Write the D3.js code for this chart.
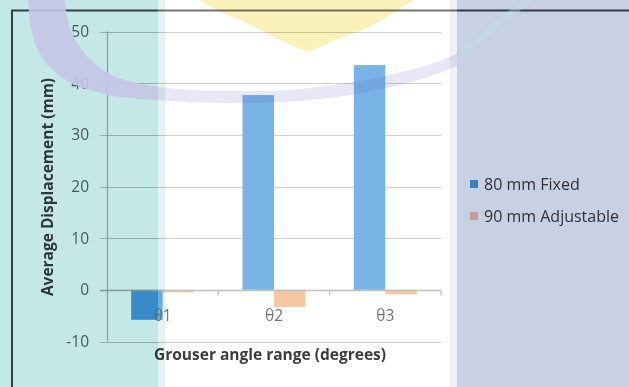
<!DOCTYPE html>
<html><head><meta charset="utf-8">
<script src="https://cdn.jsdelivr.net/npm/d3@7"></script>
<style>html,body{margin:0;padding:0;background:#fff;} svg{display:block;}</style>
</head><body>
<svg id="chart" width="629" height="387"></svg>
<script>
// Average displacement per grouser angle range
const categories = ["θ1", "θ2", "θ3"];
const seriesNames = ["80 mm Fixed", "90 mm Adjustable"];
const fixed80 = [-5.8, 37.7, 43.5];
const adjustable90 = [-0.5, -3.3, -0.9];
const yTicks = [-10, 0, 10, 20, 30, 40, 50];

const seriesValues = [fixed80, adjustable90];
const seriesColors = ["#4998de", "#f1b47f"];
const legendColors = ["#4998de", "#f2c0a8"];
const rows = categories.map((c, i) => ({ cat: c, vals: seriesNames.map((s, j) => ({ s, v: seriesValues[j][i] })) }));

const W = 629, H = 387;
const plot = { left: 107, right: 441, top: 31.5, bottom: 341.5 };
const svg = d3.select("#chart");
const FONT = "'Open Sans', 'DejaVu Sans', sans-serif";

const y = d3.scaleLinear().domain([-10, 50]).range([plot.bottom, plot.top]);
const x0 = d3.scaleBand().domain(categories).range([plot.left, plot.right]).padding(0);
const x1 = d3.scaleBand().domain(seriesNames).range([0, x0.bandwidth()]).paddingInner(0).paddingOuter(0.767);

const defs = svg.append("defs");
defs.append("clipPath").attr("id", "clipMid").append("rect").attr("x", 158).attr("y", 0).attr("width", 299).attr("height", H);
defs.append("clipPath").attr("id", "clipLeft").append("rect").attr("x", 0).attr("y", 0).attr("width", 158).attr("height", H);

// frame
const frame = svg.append("g").attr("stroke", "#3f4548").attr("stroke-width", 2);
frame.append("line").attr("x1", 11).attr("x2", W).attr("y1", 10.5).attr("y2", 10.5);
frame.append("line").attr("x1", 12).attr("x2", 12).attr("y1", 10).attr("y2", H);

// gridlines
svg.append("g").selectAll("line").data(yTicks.filter(t => t !== 0)).join("line")
  .attr("x1", plot.left - 7).attr("x2", plot.right)
  .attr("y1", d => Math.round(y(d)) + 0.5).attr("y2", d => Math.round(y(d)) + 0.5)
  .attr("stroke", "#bfbfbf").attr("stroke-width", 1.2);

// bars
svg.append("g").selectAll("g").data(rows).join("g")
  .attr("transform", d => `translate(${x0(d.cat)},0)`)
  .selectAll("rect").data(d => d.vals).join("rect")
  .attr("x", d => x1(d.s))
  .attr("width", x1.bandwidth())
  .attr("y", d => y(Math.max(0, d.v)))
  .attr("height", d => Math.abs(y(d.v) - y(0)))
  .attr("fill", (d, i) => seriesColors[i]);

// axes lines
const y0 = Math.round(y(0)) + 0.5;
svg.append("line").attr("x1", plot.left + 0.5).attr("x2", plot.left + 0.5).attr("y1", plot.top).attr("y2", plot.bottom)
  .attr("stroke", "#b0b0b0").attr("stroke-width", 1.2);
svg.append("line").attr("x1", plot.left - 7).attr("x2", plot.right).attr("y1", y0).attr("y2", y0)
  .attr("stroke", "#a8a8a8").attr("stroke-width", 1.3);
svg.append("g").selectAll("line").data(categories.slice(1).concat(["end"])).join("line")
  .attr("x1", d => d === "end" ? plot.right : x0(d)).attr("x2", d => d === "end" ? plot.right : x0(d))
  .attr("y1", y0).attr("y2", y0 + 5).attr("stroke", "#a8a8a8").attr("stroke-width", 1.2);

// swoosh ring (background artwork)
const outer = [[28,-6],[31,28],[41,56],[64,79],[104,94],[170,101],[250,103],[330,98],[400,85],[445,71],[475,56]];
const inner = [[64,-6],[70,28],[87,56],[114,76],[160,87],[230,91],[300,89],[380,77],[440,61],[475,45]];
const lineGen = d3.line().curve(d3.curveCatmullRom);
const swooshD = lineGen(outer) + "L" + lineGen(inner.slice().reverse()).slice(1) + "Z";
svg.append("path").attr("d", swooshD).attr("fill", "rgb(222,222,242)")
  .attr("clip-path", "url(#clipMid)").style("mix-blend-mode", "multiply");

// light wash over the middle panel
svg.append("rect").attr("x", 158).attr("y", 0).attr("width", 299).attr("height", H)
  .attr("fill", "#fff").attr("opacity", 0.27);

// y tick labels
const yAxis = svg.append("g").attr("transform", `translate(${plot.left},0)`)
  .call(d3.axisLeft(y).tickValues(yTicks).tickFormat(d => String(d)).tickSize(0).tickPadding(18));
yAxis.select(".domain").remove();
yAxis.selectAll("text").attr("font-family", FONT).attr("font-size", 15.5).attr("fill", "#5e6464");

// x tick labels
const xAxis = svg.append("g").attr("transform", `translate(0,290)`)
  .call(d3.axisBottom(x0).tickSize(0).tickPadding(20));
xAxis.select(".domain").remove();
xAxis.selectAll("text").attr("font-family", FONT).attr("font-size", 15.5).attr("fill", "#747474");

// axis titles
svg.append("text").attr("x", 270).attr("y", 360).attr("text-anchor", "middle")
  .attr("font-family", FONT).attr("font-size", 15.5).attr("font-weight", "bold").attr("fill", "#3c3c3c")
  .text("Grouser angle range (degrees)");
svg.append("text").attr("transform", "translate(53,187) rotate(-90)").attr("text-anchor", "middle")
  .attr("font-family", FONT).attr("font-size", 15.5).attr("font-weight", "bold").attr("fill", "#3c3c3c")
  .text("Average Displacement (mm)");

// legend
const legend = svg.append("g").selectAll("g").data(seriesNames).join("g")
  .attr("transform", (d, i) => `translate(470,${184 + i * 32})`);
legend.append("rect").attr("x", 0).attr("y", -4).attr("width", 8).attr("height", 8)
  .attr("fill", (d, i) => legendColors[i]);
legend.append("text").attr("x", 14).attr("y", 0).attr("dy", "0.36em")
  .attr("font-family", FONT).attr("font-size", 16).attr("fill", "#3c3c3c").text(d => d);

// coloured panels
const panels = [
  { x: 0, w: 158, c: "rgb(195,232,230)" },
  { x: 158, w: 7, c: "rgb(226,244,243)" },
  { x: 450, w: 7, c: "rgb(240,241,247)" },
  { x: 457, w: W - 457, c: "rgb(200,208,228)" }
];
svg.append("g").selectAll("rect").data(panels).join("rect")
  .attr("x", d => d.x).attr("y", 0).attr("width", d => d.w).attr("height", H)
  .attr("fill", d => d.c).style("mix-blend-mode", "multiply");

// swoosh over the teal panel
svg.append("path").attr("d", swooshD).attr("fill", "rgb(198,197,229)").attr("opacity", 0.9)
  .attr("clip-path", "url(#clipLeft)");
// faint tail over the lavender panel
svg.append("path").attr("d", d3.line().curve(d3.curveCatmullRom)([[458,58],[480,38],[505,18],[532,-3]]))
  .attr("fill", "none").attr("stroke", "rgb(190,222,226)").attr("stroke-width", 7).attr("opacity", 0.4);

// yellow pennant at the top
const pennant = [[196,-2],[217,10],[240,20],[260,30],[282,41],[298,48],[307,51],[318,48],[340,38],[367,28],[385,18],[398,10],[417,-2]];
svg.append("path").attr("d", d3.line().curve(d3.curveCatmullRom)(pennant) + "Z")
  .attr("fill", "rgb(251,241,186)").style("mix-blend-mode", "multiply");
</script>
</body></html>
